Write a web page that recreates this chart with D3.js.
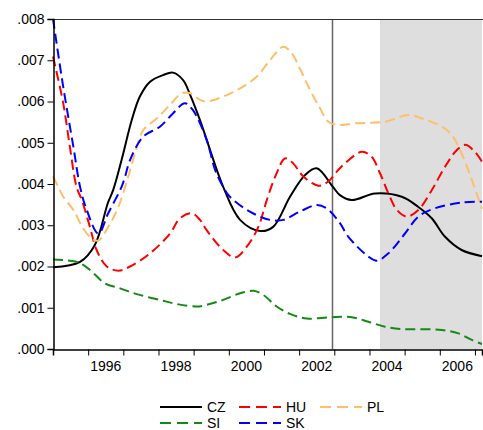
<!DOCTYPE html>
<html>
<head>
<meta charset="utf-8">
<script src="https://cdn.jsdelivr.net/npm/d3@7"></script>
<style>
  body { margin: 0; background: #fff; }
  text { font-family: "Liberation Sans", Arial, sans-serif; font-size: 14px; fill: #000; }
</style>
</head>
<body>
<div id="chart"></div>
<script>
// values (year as decimal, value as share)
const czYears = [1995.00, 1995.77, 1996.19, 1996.56, 1996.71, 1996.95, 1997.24, 1997.47, 1997.76, 1998.13, 1998.41, 1998.70, 1998.90, 1999.18, 1999.84, 2000.32, 2000.89, 2001.26, 2001.74, 2002.17, 2002.50, 2002.96, 2003.16, 2003.50, 2004.16, 2004.92, 2005.38, 2005.77, 2006.15, 2006.62, 2007.20]
const czValues = [0.00198, 0.00211, 0.00252, 0.00354, 0.00385, 0.00458, 0.00555, 0.00612, 0.00648, 0.00664, 0.00670, 0.00652, 0.00616, 0.00555, 0.00393, 0.00313, 0.00286, 0.00296, 0.00369, 0.00422, 0.00438, 0.00393, 0.00373, 0.00361, 0.00377, 0.00369, 0.00345, 0.00317, 0.00272, 0.00240, 0.00225]

const huYears = [1995.00, 1995.29, 1995.48, 1995.67, 1995.82, 1996.05, 1996.24, 1996.53, 1996.86, 1997.19, 1997.76, 1998.33, 1998.61, 1998.95, 1999.18, 1999.37, 1999.84, 2000.18, 2000.51, 2000.84, 2001.08, 2001.34, 2001.60, 2001.83, 2002.12, 2002.55, 2002.83, 2003.11, 2003.30, 2003.78, 2004.06, 2004.30, 2004.54, 2004.78, 2005.06, 2005.39, 2005.77, 2006.15, 2006.48, 2006.72, 2007.00, 2007.20]
const huValues = [0.00709, 0.00596, 0.00490, 0.00393, 0.00361, 0.00296, 0.00240, 0.00200, 0.00190, 0.00200, 0.00232, 0.00280, 0.00317, 0.00329, 0.00313, 0.00288, 0.00240, 0.00222, 0.00248, 0.00296, 0.00361, 0.00422, 0.00462, 0.00450, 0.00418, 0.00396, 0.00406, 0.00434, 0.00450, 0.00478, 0.00466, 0.00426, 0.00377, 0.00337, 0.00321, 0.00337, 0.00385, 0.00442, 0.00482, 0.00495, 0.00478, 0.00454]

const plYears = [1995.00, 1995.15, 1995.29, 1995.58, 1995.86, 1996.10, 1996.29, 1996.57, 1996.86, 1997.14, 1997.33, 1997.57, 1997.95, 1998.33, 1998.66, 1998.90, 1999.18, 1999.37, 1999.84, 2000.32, 2000.79, 2001.17, 2001.55, 2001.79, 2002.02, 2002.31, 2002.59, 2002.83, 2003.11, 2003.59, 2004.44, 2005.11, 2005.49, 2006.06, 2006.34, 2006.62, 2006.91, 2007.20]
const plValues = [0.00418, 0.00393, 0.00369, 0.00337, 0.00292, 0.00268, 0.00263, 0.00296, 0.00345, 0.00418, 0.00474, 0.00531, 0.00559, 0.00592, 0.00620, 0.00620, 0.00604, 0.00600, 0.00612, 0.00632, 0.00660, 0.00700, 0.00733, 0.00717, 0.00680, 0.00628, 0.00584, 0.00551, 0.00543, 0.00547, 0.00551, 0.00567, 0.00559, 0.00539, 0.00519, 0.00474, 0.00410, 0.00340]

const siYears = [1995.00, 1995.63, 1995.86, 1996.15, 1996.48, 1996.91, 1997.38, 1998.04, 1998.52, 1999.09, 1999.37, 1999.84, 2000.32, 2000.70, 2000.98, 2001.36, 2001.74, 2002.22, 2002.88, 2003.50, 2003.97, 2004.44, 2004.92, 2005.49, 2006.06, 2006.53, 2006.91, 2007.20]
const siValues = [0.00217, 0.00212, 0.00204, 0.00184, 0.00159, 0.00147, 0.00133, 0.00119, 0.00109, 0.00103, 0.00107, 0.00119, 0.00135, 0.00141, 0.00131, 0.00103, 0.00085, 0.00074, 0.00077, 0.00077, 0.00066, 0.00054, 0.00048, 0.00048, 0.00046, 0.00038, 0.00022, 0.00012]

const skYears = [1995.00, 1995.29, 1995.58, 1995.77, 1995.96, 1996.29, 1996.57, 1996.95, 1997.05, 1997.19, 1997.57, 1998.04, 1998.41, 1998.75, 1998.98, 1999.37, 1999.61, 1999.84, 2000.03, 2000.60, 2001.17, 2001.55, 2002.02, 2002.50, 2002.78, 2003.16, 2003.40, 2003.97, 2004.21, 2004.54, 2005.01, 2005.39, 2005.86, 2006.62, 2007.20]
const skValues = [0.00800, 0.00636, 0.00490, 0.00393, 0.00337, 0.00280, 0.00329, 0.00393, 0.00418, 0.00458, 0.00515, 0.00539, 0.00571, 0.00596, 0.00579, 0.00507, 0.00434, 0.00393, 0.00369, 0.00333, 0.00313, 0.00313, 0.00333, 0.00349, 0.00341, 0.00305, 0.00272, 0.00224, 0.00214, 0.00232, 0.00280, 0.00321, 0.00341, 0.00355, 0.00357]

const seriesNames = ['CZ', 'HU', 'PL', 'SI', 'SK']
const seriesColors = ['#000000', '#ff0000', '#ffbe6a', '#138a13', '#0000ff']

const yTicks = [0, 0.001, 0.002, 0.003, 0.004, 0.005, 0.006, 0.007, 0.008]
const yearTicks = [1996, 1997, 1998, 1999, 2000, 2001, 2002, 2003, 2004, 2005, 2006, 2007]
const yearLabels = [1996, 1998, 2000, 2002, 2004, 2006]

const breakYear = 2002.93      // vertical line
const shadeStart = 2004.30     // grey band to the end

const WIDTH = 483, HEIGHT = 430
const MARGIN = { top: 19, right: 1, bottom: 81, left: 53 }

const svg = d3.select('#chart')
  .append('svg')
  .attr('width', WIDTH)
  .attr('height', HEIGHT)

const x = d3.scaleLinear()
  .domain([1995, 2007.2])
  .range([MARGIN.left, WIDTH - MARGIN.right])

const y = d3.scaleLinear()
  .domain([0, 0.008])
  .range([HEIGHT - MARGIN.bottom, MARGIN.top])

// shaded period
svg.append('rect')
  .attr('x', x(shadeStart))
  .attr('y', y(0.008))
  .attr('width', x(2007.2) - x(shadeStart))
  .attr('height', y(0) - y(0.008))
  .attr('fill', '#dedede')

svg.append('line')
  .attr('x1', Math.round(x(breakYear)) + 0.5)
  .attr('x2', Math.round(x(breakYear)) + 0.5)
  .attr('y1', y(0.008))
  .attr('y2', y(0))
  .attr('stroke', '#666')
  .attr('stroke-width', 1.5)

const series = [
  { years: czYears, values: czValues },
  { years: huYears, values: huValues },
  { years: plYears, values: plValues },
  { years: siYears, values: siValues },
  { years: skYears, values: skValues }
]

const line = d3.line()
  .x(d => x(d[0]))
  .y(d => y(d[1]))
  .curve(d3.curveCatmullRom.alpha(0.5))

series.forEach((s, i) => {
  svg.append('path')
    .datum(d3.zip(s.years, s.values))
    .attr('d', line)
    .attr('fill', 'none')
    .attr('stroke', seriesColors[i])
    .attr('stroke-width', 2)
    .attr('stroke-dasharray', i === 0 ? null : '10,5')
})

// frame: top border
svg.append('line')
  .attr('x1', MARGIN.left)
  .attr('x2', WIDTH)
  .attr('y1', y(0.008) + 0.5)
  .attr('y2', y(0.008) + 0.5)
  .attr('stroke', '#333')

// y axis
const yAxis = svg.append('g')
  .attr('transform', `translate(${MARGIN.left + 0.5},0)`)
  .call(d3.axisLeft(y).tickValues(yTicks).tickSize(6).tickPadding(3)
    .tickFormat(d => d3.format('.3f')(d).replace(/^0/, '')))
yAxis.select('.domain').attr('stroke', '#000').attr('stroke-width', 1.5)
yAxis.selectAll('text').style('font-size', '14px').attr('fill', '#000')

// x axis, ticks at every year, labels centred inside every other year
const xAxis = svg.append('g')
  .attr('transform', `translate(0,${y(0) + 0.5})`)
  .call(d3.axisBottom(x).tickValues(yearTicks).tickSize(6).tickFormat(''))
xAxis.select('.domain').attr('stroke', '#000').attr('stroke-width', 1.5)

svg.selectAll('.year-label')
  .data(yearLabels)
  .enter()
  .append('text')
  .attr('class', 'year-label')
  .attr('x', d => x(d + 0.5))
  .attr('y', y(0) + 22)
  .attr('text-anchor', 'middle')
  .text(d => d)

// legend, 3 per row
const legendX = [160, 239, 320]
const legendY = [407, 423]

const legend = svg.selectAll('.legend')
  .data(seriesNames)
  .enter()
  .append('g')
  .attr('class', 'legend')
  .attr('transform', (d, i) => `translate(${legendX[i % 3]},${legendY[Math.floor(i / 3)]})`)

legend.append('line')
  .attr('x1', 0)
  .attr('x2', 42)
  .attr('stroke', (d, i) => seriesColors[i])
  .attr('stroke-width', 2)
  .attr('stroke-dasharray', (d, i) => i === 0 ? null : '11,6')

legend.append('text')
  .attr('x', 47)
  .attr('y', 5)
  .text(d => d)
</script>
</body>
</html>
